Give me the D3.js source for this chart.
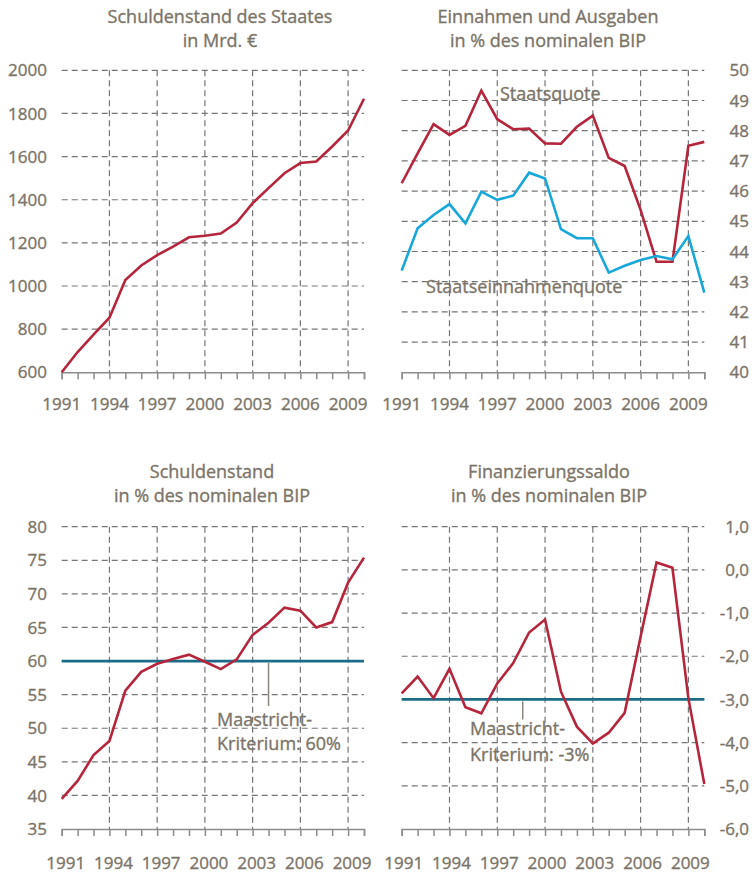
<!DOCTYPE html>
<html>
<head>
<meta charset="utf-8">
<script src="https://cdn.jsdelivr.net/npm/d3@7"></script>
<style>
body { margin: 0; background: #fff; }
text { font-family: "Open Sans", sans-serif; fill: #7b7468; stroke: #7b7468; stroke-width: 0.35px; }
</style>
</head>
<body>
<svg id="chart" width="752" height="874"></svg>
<script>
var years = [1991, 1992, 1993, 1994, 1995, 1996, 1997, 1998, 1999, 2000,
             2001, 2002, 2003, 2004, 2005, 2006, 2007, 2008, 2009, 2010];
var yearLabels = [1991, 1994, 1997, 2000, 2003, 2006, 2009];

var schuldenMrd = [600, 694, 775, 853, 1028, 1095, 1143, 1183, 1226, 1233,
                   1243, 1294, 1384, 1454, 1523, 1570, 1577, 1647, 1721, 1868];
var staatsquote = [46.26, 47.25, 48.22, 47.86, 48.16, 49.33, 48.38, 48.05, 48.07, 47.58,
                   47.57, 48.13, 48.5, 47.1, 46.83, 45.38, 43.66, 43.66, 47.5, 47.63];
var einnahmenquote = [43.37, 44.77, 45.21, 45.57, 44.93, 45.98, 45.71, 45.85, 46.61, 46.42,
                      44.74, 44.44, 44.44, 43.3, 43.53, 43.72, 43.85, 43.74, 44.51, 42.64];
var schuldenQuote = [39.5, 42.15, 46.0, 48.1, 55.6, 58.4, 59.6, 60.3, 60.95, 59.9,
                     58.8, 60.25, 63.9, 65.7, 67.95, 67.5, 65.0, 65.8, 71.67, 75.4];
var saldo = [-2.86, -2.47, -2.97, -2.29, -3.18, -3.32, -2.63, -2.16, -1.45, -1.15,
             -2.82, -3.63, -4.02, -3.77, -3.31, -1.55, 0.17, 0.05, -2.97, -4.96];

var ticksMrd = [600, 800, 1000, 1200, 1400, 1600, 1800, 2000];
var ticksQuote = [40, 41, 42, 43, 44, 45, 46, 47, 48, 49, 50];
var ticksSchulden = [35, 40, 45, 50, 55, 60, 65, 70, 75, 80];
var ticksSaldo = [-6, -5, -4, -3, -2, -1, 0, 1];

var RED = "#b5253b", BLUE = "#18a7d9", TEAL = "#1c6c89", GRID = "#767676";
var svg = d3.select("#chart");
var de = d3.formatLocale({ decimal: ",", thousands: "", grouping: [3], currency: ["", ""], minus: "-" });

function panel(p) {
    var g = svg.append("g");
    var x = d3.scaleLinear().domain([1991, 2010]).range([p.left, p.right]);
    var y = d3.scaleLinear().domain(p.domain).range([p.bottom, p.top]);

    // Titel
    g.selectAll(".title").data(p.title).enter().append("text")
        .attr("x", p.titleX).attr("y", function (d, i) { return p.titleY + i * 24; })
        .attr("text-anchor", "middle").style("font-size", "18px").text(function (d) { return d; });

    // Gitter
    g.selectAll(".hgrid").data(p.ticks.slice(1)).enter().append("line")
        .attr("x1", p.left).attr("x2", p.right)
        .attr("y1", function (d) { return y(d); }).attr("y2", function (d) { return y(d); })
        .attr("stroke", GRID).attr("stroke-width", 1.2).attr("stroke-dasharray", "6,4");
    g.selectAll(".vgrid").data(yearLabels.slice(1)).enter().append("line")
        .attr("x1", function (d) { return x(d); }).attr("x2", function (d) { return x(d); })
        .attr("y1", p.top).attr("y2", p.bottom)
        .attr("stroke", GRID).attr("stroke-width", 1.2).attr("stroke-dasharray", "6,4");

    // x-Achse
    var xa = g.append("g").attr("transform", "translate(0," + p.bottom + ")")
        .call(d3.axisBottom(x).tickValues(years).tickSize(7).tickFormat(""));
    xa.select(".domain").attr("stroke", "#8c8c8c").attr("stroke-width", 1.5);
    xa.selectAll(".tick line").attr("stroke", "#8c8c8c").attr("stroke-width", 1.5);
    g.selectAll(".xl").data(yearLabels).enter().append("text")
        .attr("x", function (d) { return x(d) + (p.xLabelDx || 0); }).attr("y", p.bottom + p.xLabelY)
        .attr("text-anchor", "middle").style("font-size", "17px").text(function (d) { return d; });

    // y-Beschriftung
    g.selectAll(".yl").data(p.ticks).enter().append("text")
        .attr("x", p.labelX).attr("y", function (d) { return y(d); }).attr("dy", "0.36em")
        .attr("text-anchor", "end").style("font-size", "17px")
        .text(p.format || function (d) { return d; });

    if (p.limit !== undefined) {
        g.append("line").attr("x1", p.left).attr("x2", p.right)
            .attr("y1", y(p.limit)).attr("y2", y(p.limit))
            .attr("stroke", TEAL).attr("stroke-width", 2.8);
        var n = p.note;
        g.append("line").attr("x1", x(n.year)).attr("x2", x(n.year))
            .attr("y1", y(p.limit) + 2).attr("y2", y(p.limit) + n.len)
            .attr("stroke", "#8c8579").attr("stroke-width", 1.5);
        g.selectAll(".note").data(n.lines).enter().append("text")
            .attr("x", n.x).attr("y", function (d, i) { return n.y + i * n.gap; })
            .style("font-size", "18px").text(function (d) { return d; });
    }

    var line = d3.line().x(function (d, i) { return x(years[i]); }).y(function (d) { return y(d); });
    p.series.forEach(function (s) {
        g.append("path").datum(s.values).attr("d", line)
            .attr("fill", "none").attr("stroke", s.color).attr("stroke-width", 2.6)
            .attr("stroke-linejoin", "miter");
    });
    (p.labels || []).forEach(function (l) {
        g.append("text").attr("x", x(l.year)).attr("y", y(l.value))
            .style("font-size", "18px").text(l.text);
    });
}

panel({
    left: 61.7, right: 364, top: 70.3, bottom: 372.3, domain: [600, 2000],
    ticks: ticksMrd, labelX: 47, titleX: 220, titleY: 23, xLabelY: 38,
    title: ["Schuldenstand des Staates", "in Mrd. €"],
    series: [{ values: schuldenMrd, color: RED }]
});

panel({
    left: 401.7, right: 704.3, top: 70.3, bottom: 372.3, domain: [40, 50],
    ticks: ticksQuote, labelX: 749, titleX: 548, titleY: 23, xLabelY: 38,
    title: ["Einnahmen und Ausgaben", "in % des nominalen BIP"],
    series: [{ values: staatsquote, color: RED }, { values: einnahmenquote, color: BLUE }],
    labels: [{ text: "Staatsquote", year: 1997.17, value: 49.02 },
             { text: "Staatseinnahmenquote", year: 1992.53, value: 42.63 }]
});

panel({
    left: 61.7, right: 364, top: 526.7, bottom: 829, domain: [35, 80],
    ticks: ticksSchulden, labelX: 47, titleX: 212, titleY: 478, xLabelDx: 4, xLabelY: 40,
    title: ["Schuldenstand", "in % des nominalen BIP"],
    series: [{ values: schuldenQuote, color: RED }],
    limit: 60,
    note: { year: 2004, len: 45, x: 217, y: 726, gap: 24, lines: ["Maastricht-", "Kriterium: 60%"] }
});

panel({
    left: 401.7, right: 704.3, top: 526.7, bottom: 829, domain: [-6, 1],
    ticks: ticksSaldo, labelX: 749, titleX: 549, titleY: 478, xLabelDx: 2, xLabelY: 40,
    format: de.format(".1f"),
    title: ["Finanzierungssaldo", "in % des nominalen BIP"],
    series: [{ values: saldo, color: RED }],
    limit: -3,
    note: { year: 1998.6, len: 20, x: 470, y: 735, gap: 26, lines: ["Maastricht-", "Kriterium: -3%"] }
});
</script>
</body>
</html>
